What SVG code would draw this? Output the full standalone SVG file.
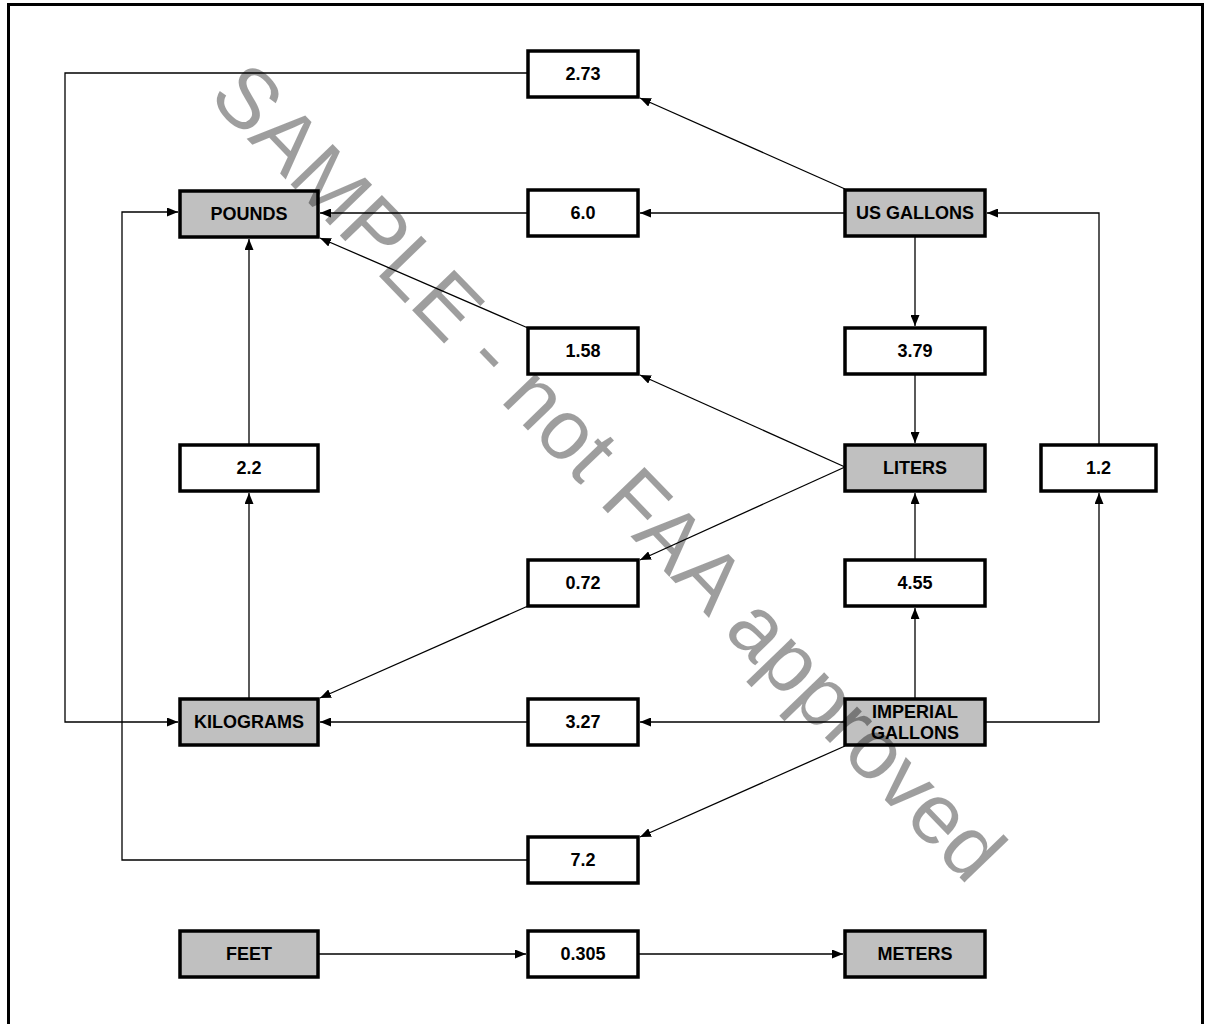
<svg xmlns="http://www.w3.org/2000/svg" width="1205" height="1024" viewBox="0 0 1205 1024">
<defs>
<marker id="arr" markerUnits="userSpaceOnUse" markerWidth="11" markerHeight="9" refX="11" refY="4.5" orient="auto">
<path d="M0,0 L11,4.5 L0,9 z" fill="#000"/>
</marker>
<style>
.box{stroke:#000;stroke-width:3.5}
.g{fill:#c0c0c0}
.w{fill:#fff}
.t{font-family:"Liberation Sans",Arial,sans-serif;font-weight:bold;font-size:18px;text-anchor:middle;fill:#000}
.c{fill:none;stroke:#000;stroke-width:1.3;marker-end:url(#arr)}
.wm{font-family:"Liberation Sans",Arial,sans-serif;font-size:85px;fill:#000;fill-opacity:0.38}
</style>
</defs>
<rect width="1205" height="1024" fill="#fff"/>
<rect x="8.5" y="4.5" width="1194" height="1040" fill="none" stroke="#000" stroke-width="3"/>

<g id="connectors">
<line class="c" x1="845" y1="189" x2="640" y2="98"/>
<line class="c" x1="845" y1="213" x2="640" y2="213"/>
<line class="c" x1="528" y1="213" x2="320" y2="213"/>
<line class="c" x1="915" y1="236" x2="915" y2="326"/>
<line class="c" x1="915" y1="374" x2="915" y2="443"/>
<line class="c" x1="845" y1="467" x2="640" y2="375"/>
<line class="c" x1="528" y1="328" x2="320" y2="238"/>
<line class="c" x1="845" y1="467" x2="640" y2="560"/>
<line class="c" x1="528" y1="606" x2="320" y2="698"/>
<line class="c" x1="249" y1="699" x2="249" y2="493"/>
<line class="c" x1="249" y1="445" x2="249" y2="239"/>
<line class="c" x1="915" y1="699" x2="915" y2="608"/>
<line class="c" x1="915" y1="560" x2="915" y2="493"/>
<line class="c" x1="845" y1="722" x2="640" y2="722"/>
<line class="c" x1="528" y1="722" x2="320" y2="722"/>
<polyline class="c" points="985,722 1099,722 1099,493"/>
<polyline class="c" points="1099,445 1099,213 987,213"/>
<line class="c" x1="845" y1="746" x2="640" y2="837"/>
<polyline class="c" points="528,860 122,860 122,212 178,212"/>
<polyline class="c" points="528,73 65,73 65,722 178,722"/>
<line class="c" x1="318" y1="954" x2="526" y2="954"/>
<line class="c" x1="638" y1="954" x2="843" y2="954"/>
</g>

<g id="n273"><rect class="box w" x="528" y="51" width="110" height="46"/><text class="t" x="583" y="80">2.73</text></g>
<g id="pounds"><rect class="box g" x="180" y="191" width="138" height="46"/><text class="t" x="249" y="220">POUNDS</text></g>
<g id="n60"><rect class="box w" x="528" y="190" width="110" height="46"/><text class="t" x="583" y="219">6.0</text></g>
<g id="usgallons"><rect class="box g" x="845" y="190" width="140" height="46"/><text class="t" x="915" y="219">US GALLONS</text></g>
<g id="n158"><rect class="box w" x="528" y="328" width="110" height="46"/><text class="t" x="583" y="357">1.58</text></g>
<g id="n379"><rect class="box w" x="845" y="328" width="140" height="46"/><text class="t" x="915" y="357">3.79</text></g>
<g id="n22"><rect class="box w" x="180" y="445" width="138" height="46"/><text class="t" x="249" y="474">2.2</text></g>
<g id="liters"><rect class="box g" x="845" y="445" width="140" height="46"/><text class="t" x="915" y="474">LITERS</text></g>
<g id="n12"><rect class="box w" x="1041" y="445" width="115" height="46"/><text class="t" x="1098.5" y="474">1.2</text></g>
<g id="n072"><rect class="box w" x="528" y="560" width="110" height="46"/><text class="t" x="583" y="589">0.72</text></g>
<g id="n455"><rect class="box w" x="845" y="560" width="140" height="46"/><text class="t" x="915" y="589">4.55</text></g>
<g id="kilograms"><rect class="box g" x="180" y="699" width="138" height="46"/><text class="t" x="249" y="728">KILOGRAMS</text></g>
<g id="n327"><rect class="box w" x="528" y="699" width="110" height="46"/><text class="t" x="583" y="728">3.27</text></g>
<g id="imperial"><rect class="box g" x="845" y="699" width="140" height="46"/><text class="t" x="915" y="718">IMPERIAL</text><text class="t" x="915" y="739">GALLONS</text></g>
<g id="n72"><rect class="box w" x="528" y="837" width="110" height="46"/><text class="t" x="583" y="866">7.2</text></g>
<g id="feet"><rect class="box g" x="180" y="931" width="138" height="46"/><text class="t" x="249" y="960">FEET</text></g>
<g id="n0305"><rect class="box w" x="528" y="931" width="110" height="46"/><text class="t" x="583" y="960">0.305</text></g>
<g id="meters"><rect class="box g" x="845" y="931" width="140" height="46"/><text class="t" x="915" y="960">METERS</text></g>

<text class="wm" x="207" y="98" transform="rotate(46 207 98)">SAMPLE - not FAA approved</text>
</svg>
